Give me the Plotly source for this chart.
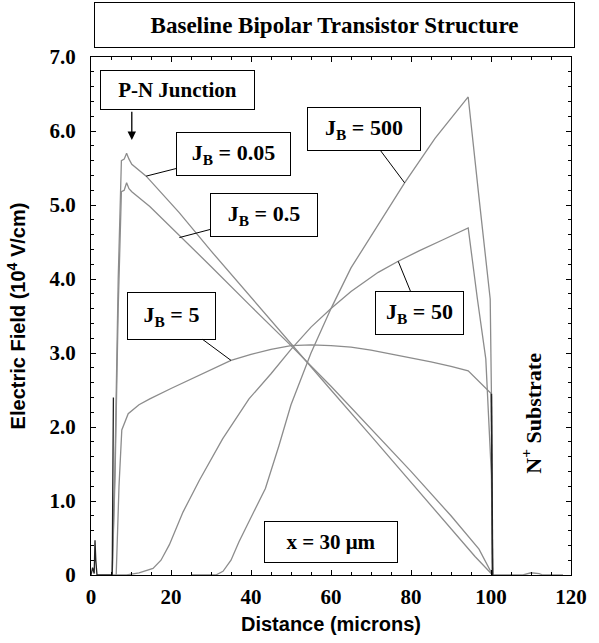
import plotly.graph_objects as go

# ---- data ----
x_jb005 = [5.3, 6.0, 6.8, 7.6, 8.3, 8.9, 9.5, 10.2, 13.8, 22, 30, 40, 50, 60, 70, 80, 90, 96, 100.4]
y_jb005 = [0, 1.5, 4.0, 5.6, 5.62, 5.70, 5.62, 5.55, 5.39, 4.90, 4.38, 3.75, 3.12, 2.50, 1.88, 1.25, 0.62, 0.25, 0]

x_jb05 = [5.3, 6.0, 6.8, 7.6, 8.3, 8.9, 9.5, 10.2, 14.7, 22, 30, 40, 50, 60, 70, 80, 90, 97, 100.4]
y_jb05 = [0, 1.3, 3.6, 5.18, 5.2, 5.30, 5.22, 5.18, 4.98, 4.60, 4.17, 3.63, 3.10, 2.55, 1.98, 1.40, 0.80, 0.35, 0]

x_jb5 = [6.3, 7.0, 7.7, 9.3, 12, 14.7, 20, 25, 30, 35, 40, 45, 50, 55, 60, 65, 70, 75, 80, 85, 90, 94.3, 100.1, 100.4]
y_jb5 = [0, 1.2, 1.96, 2.18, 2.3, 2.38, 2.52, 2.65, 2.78, 2.9, 2.98, 3.05, 3.1, 3.11, 3.1, 3.08, 3.04, 2.99, 2.94, 2.88, 2.82, 2.76, 2.45, 0]

x_jb50 = [5, 8.9, 12, 15.5, 17.5, 19.6, 23, 27.1, 32.9, 39.5, 45, 50, 55, 60, 65, 71.8, 76.8, 82, 88, 94.3, 96.6, 98.7, 100.1, 100.4]
y_jb50 = [0, 0, 0.03, 0.09, 0.2, 0.41, 0.85, 1.28, 1.84, 2.38, 2.72, 3.05, 3.35, 3.6, 3.83, 4.09, 4.24, 4.38, 4.53, 4.69, 3.73, 2.92, 1.35, 0]

x_jb500 = [25, 31.2, 33, 35, 37, 40, 43.6, 47, 50, 55, 60, 65, 71.8, 78.4, 86, 94.3, 97, 99.8, 100.1, 100.4, 108, 110, 112, 113, 118]
y_jb500 = [0, 0, 0.05, 0.2, 0.45, 0.78, 1.17, 1.75, 2.3, 3.0, 3.6, 4.15, 4.74, 5.30, 5.9, 6.46, 5.1, 3.73, 2.48, 0, 0, 0.03, 0.02, 0, 0]

x_spike = [0, 0.4, 0.8, 1.0, 1.2, 1.5, 2.0, 4.9, 5.3, 5.6]
y_spike = [0, 0.1, 0.02, 0.47, 0.2, 0, 0, 0, 0, 2.4]

x_edge = [100.1, 100.4, 100.4]
y_edge = [2.45, 0.3, 0]

x_ticks = [0, 20, 40, 60, 80, 100, 120]
x_ticktext = ["0", "20", "40", "60", "80", "100", "120"]
y_ticks = [0, 1, 2, 3, 4, 5, 6, 7]
y_ticktext = ["0", "1.0", "2.0", "3.0", "4.0", "5.0", "6.0", "7.0"]

labels = ["J<sub>B</sub> = 0.05", "J<sub>B</sub> = 0.5", "J<sub>B</sub> = 5", "J<sub>B</sub> = 50", "J<sub>B</sub> = 500"]
label_points = [(13.8, 5.39), (22.1, 4.56), (35.0, 2.90), (76.8, 4.24), (78.4, 5.30)]
label_boxes = [(35.65, 5.69, 113, 42), (43.2, 4.86, 106, 42), (20.0, 3.50, 87, 46), (82.1, 3.54, 87, 42), (68.3, 6.03, 112, 42)]

GREY = "#8c8c8c"
SERIF = "Liberation Serif"
SANS = "Liberation Sans"

fig = go.Figure()
for xs, ys in [(x_jb005, y_jb005), (x_jb05, y_jb05), (x_jb5, y_jb5), (x_jb50, y_jb50), (x_jb500, y_jb500)]:
    fig.add_trace(go.Scatter(x=xs, y=ys, mode="lines", line=dict(color=GREY, width=1.3), showlegend=False))
fig.add_trace(go.Scatter(x=x_spike, y=y_spike, mode="lines", line=dict(color="#222", width=1.3), showlegend=False))
fig.add_trace(go.Scatter(x=x_edge, y=y_edge, mode="lines", line=dict(color="#222", width=1.6), showlegend=False))

annos = []
# Title box
annos.append(dict(xref="paper", yref="paper", x=0.5083, y=1.0615, xanchor="center", yanchor="middle",
                  text="<b>Baseline Bipolar Transistor Structure</b>",
                  showarrow=False, width=479, height=44, borderpad=0, bordercolor="black", borderwidth=1,
                  font=dict(family=SERIF, size=23, color="black"), bgcolor="white"))
# P-N junction box + arrow
annos.append(dict(x=21.7, y=6.55, xref="x", yref="y", text="<b>P-N Junction</b>", showarrow=False,
                  xanchor="center", yanchor="middle",
                  width=153, height=38, borderpad=0, bordercolor="black", borderwidth=1,
                  font=dict(family=SERIF, size=21, color="black"), bgcolor="white"))
annos.append(dict(x=10.2, y=5.88, ax=10.2, ay=6.28, xref="x", yref="y", axref="x", ayref="y", text="",
                  showarrow=True, arrowhead=2, arrowsize=1.3, arrowwidth=1.3, arrowcolor="black"))
for txt, (px, py), (bx, by, bw, bh) in zip(labels, label_points, label_boxes):
    annos.append(dict(x=px, y=py, ax=bx, ay=by, xref="x", yref="y", axref="x", ayref="y",
                      text="<b>" + txt + "</b>", showarrow=True, arrowhead=0, arrowwidth=1, arrowcolor="black",
                      width=bw, height=bh, borderpad=0, bordercolor="black", borderwidth=1, bgcolor="white",
                      font=dict(family=SERIF, size=22, color="black")))
annos.append(dict(x=60.1, y=0.44, xref="x", yref="y", text="<b>x = 30 μm</b>", showarrow=False,
                  xanchor="center", yanchor="middle",
                  width=132, height=40, borderpad=0, bordercolor="black", borderwidth=1, bgcolor="white",
                  font=dict(family=SERIF, size=21, color="black")))
annos.append(dict(x=110.0, y=2.18, xref="x", yref="y", text="<b>N<sup>+</sup> Substrate</b>", showarrow=False,
                  xanchor="center", yanchor="middle",
                  textangle=-90, font=dict(family=SERIF, size=22, color="black")))

fig.update_layout(
    width=599, height=643,
    margin=dict(l=91, r=25, t=57, b=66),
    paper_bgcolor="white", plot_bgcolor="white",
    annotations=annos,
    showlegend=False,
)
fig.update_xaxes(range=[0, 120], tickvals=x_ticks, ticktext=x_ticktext, ticks="inside", ticklen=5,
                 tickcolor="black", showline=True, linecolor="black", linewidth=1, mirror="ticks",
                 showgrid=False, zeroline=False, ticklabelstandoff=3,
                 minor=dict(dtick=5, ticks="inside", ticklen=3, tickcolor="black"),
                 tickfont=dict(family=SERIF, size=21, color="black", weight="bold"),
                 title=dict(text="<b>Distance (microns)</b>", font=dict(family=SANS, size=20, color="black"), standoff=8))
fig.update_yaxes(range=[0, 7], tickvals=y_ticks, ticktext=y_ticktext, ticks="inside", ticklen=5,
                 tickcolor="black", showline=True, linecolor="black", linewidth=1, mirror="ticks",
                 showgrid=False, zeroline=False, ticklabelstandoff=10,
                 minor=dict(dtick=0.2, ticks="inside", ticklen=3, tickcolor="black"),
                 tickfont=dict(family=SERIF, size=21, color="black", weight="bold"),
                 title=dict(text="<b>Electric Field (10<sup>4</sup> V/cm)</b>", font=dict(family=SANS, size=20, color="black"), standoff=18))

fig.write_html("out.html")
